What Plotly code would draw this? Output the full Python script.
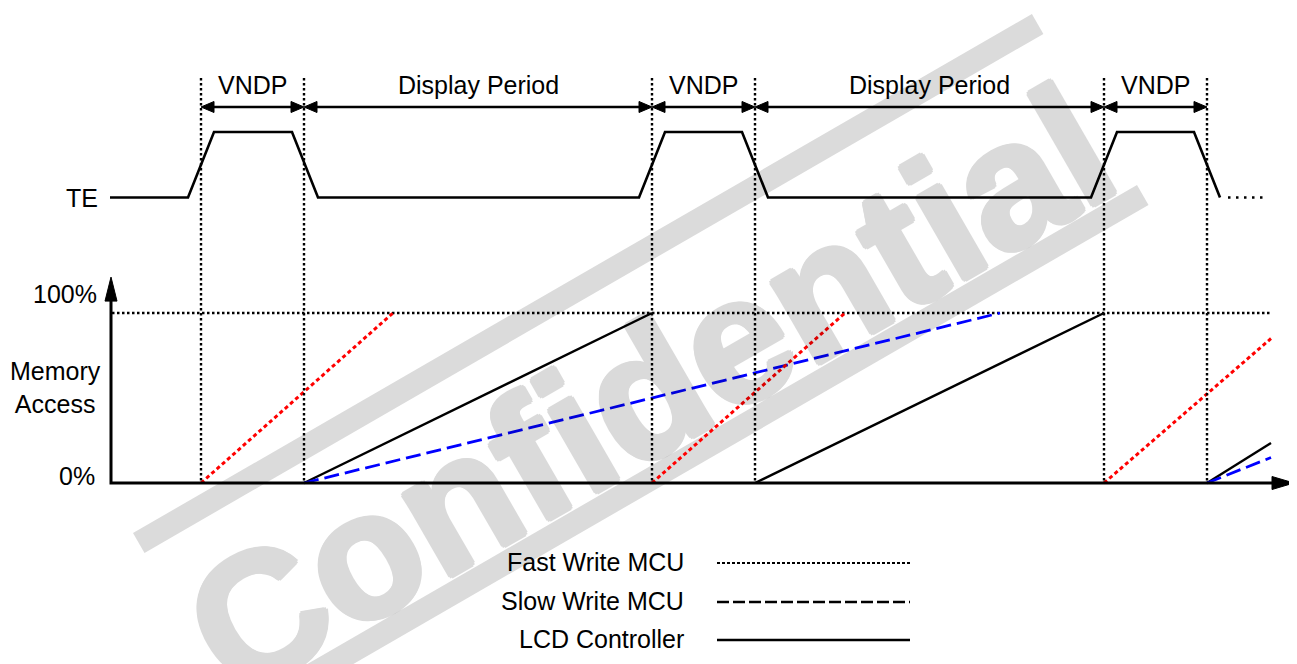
import math
import plotly.graph_objects as go

W, H = 1297, 664
OFF = 8  # page body margin in the browser

# ---------------- data ----------------
period_bounds = [201, 304, 652, 755, 1104, 1207]
period_labels = ["VNDP", "Display Period", "VNDP", "Display Period", "VNDP"]

te_time = [110, 188, 214, 292, 318, 639, 665, 742, 768, 1091, 1117, 1194, 1220]
te_level = [0, 0, 1, 1, 0, 0, 1, 1, 0, 0, 1, 1, 0]
te_tail_time = [1228, 1268]
te_tail_level = [0, 0]

fast_time = [201, 393, None, 652, 845, None, 1104, 1271]
fast_access = [0, 100, None, 0, 100, None, 0, 85]
slow_time = [304, 1000, None, 1207, 1271]
slow_access = [0, 100, None, 0, 15]
lcd_time = [304, 652, None, 755, 1104, None, 1207, 1271]
lcd_access = [0, 100, None, 0, 100, None, 0, 23.5]

full_time = [112, 1270]
full_access = [100, 100]

axis_time = [111, 111, 1272]
axis_access = [107, 0, 0]

tick_labels = ["100%", "0%"]
legend_names = ["Fast Write MCU", "Slow Write MCU", "LCD Controller"]

# ---------------- layout helpers ----------------
Y0_PX, PX_PER_PCT = 483, 1.7          # memory access axis
TE0_PX, PX_PER_TE = 197.5, 65.5       # TE signal axis


def yp(py):
    return 1 - (py - OFF) / H


def xp(px):
    return (px - OFF) / W


mem_range = [(Y0_PX - OFF - H) / PX_PER_PCT, (Y0_PX - OFF) / PX_PER_PCT]
te_range = [(TE0_PX - OFF - H) / PX_PER_TE, (TE0_PX - OFF) / PX_PER_TE]

FONT = "Liberation Sans, Arial, sans-serif"
FS = 25
fig = go.Figure()

# TE signal
fig.add_trace(go.Scatter(x=te_time, y=te_level, yaxis="y2", mode="lines",
                         line=dict(color="black", width=2.6), hoverinfo="skip"))
fig.add_trace(go.Scatter(x=te_tail_time, y=te_tail_level, yaxis="y2", mode="lines",
                         line=dict(color="black", width=2.6, dash="2.5px,5.5px"), hoverinfo="skip"))

# 100% reference
fig.add_trace(go.Scatter(x=full_time, y=full_access, mode="lines",
                         line=dict(color="black", width=2.4, dash="2.5px,2.5px"), hoverinfo="skip"))

# memory access lines
fig.add_trace(go.Scatter(x=lcd_time, y=lcd_access, mode="lines", name=legend_names[2],
                         line=dict(color="black", width=2.4)))
fig.add_trace(go.Scatter(x=slow_time, y=slow_access, mode="lines", name=legend_names[1],
                         line=dict(color="#0000ff", width=2.8, dash="15px,6px")))
fig.add_trace(go.Scatter(x=fast_time, y=fast_access, mode="lines", name=legend_names[0],
                         line=dict(color="#ff0000", width=3, dash="4px,3px")))

# axes of the memory-access plot
fig.add_trace(go.Scatter(x=axis_time, y=axis_access, mode="lines",
                         line=dict(color="black", width=3), hoverinfo="skip"))
head_len_y = 24 / PX_PER_PCT
fig.add_trace(go.Scatter(x=[axis_time[0] - 6, axis_time[0], axis_time[0] + 6, axis_time[0] - 6],
                         y=[axis_access[0], axis_access[0] + head_len_y, axis_access[0], axis_access[0]],
                         mode="lines", fill="toself", fillcolor="black",
                         line=dict(color="black", width=1), hoverinfo="skip"))
hh = 6.5 / PX_PER_PCT
fig.add_trace(go.Scatter(x=[axis_time[2], axis_time[2] + 22, axis_time[2], axis_time[2]],
                         y=[hh, 0, -hh, hh],
                         mode="lines", fill="toself", fillcolor="black",
                         line=dict(color="black", width=1), hoverinfo="skip"))

shapes = []
annotations = []

# watermark bands
ang = math.radians(30)
u = (math.cos(ang), -math.sin(ang))
n = (math.sin(ang), math.cos(ang))
t = 23


def band(x0, y0, length):
    p1 = (x0, y0)
    p2 = (x0 + length * u[0], y0 + length * u[1])
    p3 = (p2[0] + t * n[0], p2[1] + t * n[1])
    p4 = (x0 + t * n[0], y0 + t * n[1])
    pts = [p1, p2, p3, p4]
    path = "M " + " L ".join(f"{px:.1f},{yp(py):.4f}" for px, py in pts) + " Z"
    return dict(type="path", path=path, xref="x", yref="paper", layer="below",
                fillcolor="#dbdbdb", line=dict(width=0))


shapes.append(band(133, 533, 1038))
shapes.append(band(1137 - 1100 * u[0], 185 - 1100 * u[1], 1100))

# vertical dotted period boundaries
for b in period_bounds:
    shapes.append(dict(type="line", xref="x", yref="paper", x0=b, x1=b, y0=yp(78), y1=yp(483),
                       line=dict(color="black", width=2.4, dash="2.5px,2.5px")))

# double arrows
ARW_Y = 107
for i in range(len(period_bounds) - 1):
    a, b = period_bounds[i], period_bounds[i + 1]
    shapes.append(dict(type="line", xref="x", yref="paper", x0=a + 6, x1=b - 6,
                       y0=yp(ARW_Y), y1=yp(ARW_Y), line=dict(color="black", width=2.5)))
    for tip, d in ((a, 1), (b, -1)):
        base = tip + d * 13
        path = (f"M {tip},{yp(ARW_Y):.4f} L {base},{yp(ARW_Y - 5.5):.4f} "
                f"L {base},{yp(ARW_Y + 5.5):.4f} Z")
        shapes.append(dict(type="path", path=path, xref="x", yref="paper",
                           fillcolor="black", line=dict(color="black", width=1)))
    annotations.append(dict(text=period_labels[i], x=(a + b) / 2, xref="x", y=yp(85), yref="paper",
                            showarrow=False, font=dict(family=FONT, size=FS, color="black"),
                            xanchor="center", yanchor="middle"))


def lab(text, x, y, xa="right"):
    annotations.append(dict(text=text, x=xp(x), xref="paper", y=yp(y), yref="paper",
                            showarrow=False, font=dict(family=FONT, size=FS, color="black"),
                            xanchor=xa, yanchor="middle"))


lab("TE", 100, 198)
lab(tick_labels[0], 99, 294)
lab(tick_labels[1], 97, 476)
annotations.append(dict(text="Memory<br>Access", x=xp(55), xref="paper", y=yp(387), yref="paper",
                        showarrow=False, font=dict(family=FONT, size=FS, color="black"),
                        xanchor="center", yanchor="middle", align="center"))

# legend
leg_y = [562, 601, 639]
leg_style = [dict(width=1.8, dash="3px,2px"), dict(width=2.4, dash="12px,4px"), dict(width=2.4)]
for name, ly, st in zip(legend_names, leg_y, leg_style):
    lab(name, 686, ly)
    shapes.append(dict(type="line", xref="x", yref="paper", x0=717, x1=910,
                       y0=yp(ly + 1), y1=yp(ly + 1), line=dict(color="black", **st)))

# watermark text (group opacity keeps the shadow-thickened glyphs an even grey)
shadow = ", ".join(f"{dx}px {dy}px 0 black" for dx, dy in
                   [(3, 0), (-3, 0), (0, 3), (0, -3), (2, 2), (-2, 2), (2, -2), (-2, -2)])
annotations.append(dict(text="Confidential", x=xp(649), xref="paper", y=yp(390), yref="paper",
                        showarrow=False, textangle=-30, opacity=0.14,
                        font=dict(family="Liberation Sans, Arial, sans-serif",
                                  size=178, weight="bold", color="black", shadow=shadow),
                        xanchor="center", yanchor="middle"))

fig.update_layout(
    width=W, height=H, margin=dict(l=0, r=0, t=0, b=0),
    paper_bgcolor="white", plot_bgcolor="white", showlegend=False,
    xaxis=dict(range=[OFF, W + OFF], visible=False, fixedrange=True),
    yaxis=dict(range=mem_range, visible=False, fixedrange=True),
    yaxis2=dict(range=te_range, visible=False, overlaying="y", fixedrange=True),
    shapes=shapes, annotations=annotations,
)

fig.write_html("out.html")
